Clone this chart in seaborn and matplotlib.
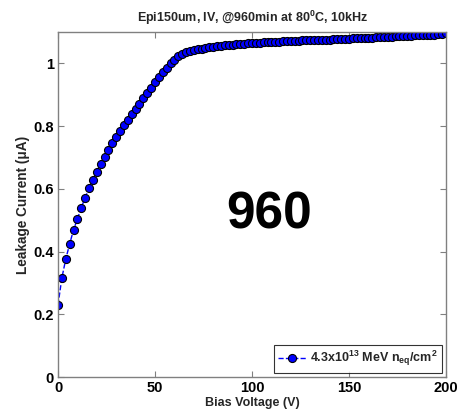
import matplotlib
matplotlib.use("Agg")
import matplotlib.pyplot as plt
import seaborn as sns
import pandas as pd

bias_voltage = list(range(0, 201, 2))
leakage_current = [
    0.230, 0.316, 0.376, 0.424, 0.469, 0.504, 0.540, 0.572, 0.602, 0.628,
    0.655, 0.680, 0.703, 0.725, 0.745, 0.765, 0.785, 0.803, 0.821, 0.838,
    0.855, 0.872, 0.889, 0.905, 0.922, 0.939, 0.955, 0.971, 0.986, 1.000,
    1.012, 1.022, 1.030, 1.036, 1.040, 1.043, 1.045, 1.047, 1.049, 1.051,
    1.053, 1.054, 1.056, 1.057, 1.058, 1.060, 1.061, 1.062, 1.063, 1.064,
    1.065, 1.066, 1.066, 1.067, 1.068, 1.068, 1.069, 1.069, 1.070, 1.071,
    1.071, 1.072, 1.072, 1.073, 1.073, 1.074, 1.074, 1.075, 1.075, 1.076,
    1.076, 1.077, 1.077, 1.078, 1.078, 1.079, 1.080, 1.080, 1.081, 1.081,
    1.082, 1.082, 1.083, 1.084, 1.084, 1.085, 1.085, 1.086, 1.086, 1.087,
    1.088, 1.088, 1.089, 1.089, 1.090, 1.091, 1.091, 1.092, 1.093, 1.094,
    1.096,
]
series_label = r"4.3x10$^{\mathbf{13}}$ MeV n$_{\mathbf{eq}}$/cm$^{\mathbf{2}}$"
title = r"Epi150um, IV, @960min at 80$^{\mathbf{0}}$C, 10kHz"
x_ticks = [0, 50, 100, 150, 200]
y_ticks = [0, 0.2, 0.4, 0.6, 0.8, 1]
y_tick_labels = ["0", "0.2", "0.4", "0.6", "0.8", "1"]

sns.set_style("ticks")
plt.rcParams["font.family"] = ["Liberation Sans", "DejaVu Sans"]
plt.rcParams["font.weight"] = "bold"
plt.rcParams["mathtext.fontset"] = "custom"
plt.rcParams["mathtext.rm"] = "Liberation Sans:bold"
plt.rcParams["mathtext.it"] = "Liberation Sans:bold"
plt.rcParams["mathtext.bf"] = "Liberation Sans:bold"
plt.rcParams["mathtext.default"] = "bf"

df = pd.DataFrame({"V": bias_voltage, "I": leakage_current})

fig = plt.figure(figsize=(4.65, 4.11), dpi=100)
ax = fig.add_axes([58 / 465, 34 / 411, (446 - 58) / 465, (377 - 32) / 411])

sns.lineplot(data=df, x="V", y="I", ax=ax, color="blue", linestyle="--",
             linewidth=1.0, marker="o", markersize=5.8,
             markerfacecolor="blue", markeredgecolor="black",
             markeredgewidth=0.8, label=series_label)

ax.set_xlim(0, 200)
ax.set_ylim(0, 1.1)
ax.set_xticks(x_ticks)
ax.set_yticks(y_ticks)
ax.set_yticklabels(y_tick_labels)
ax.tick_params(direction="in", length=4, width=0.8, colors="#808080",
               labelcolor="black", labelsize=10.5, top=True, right=True, pad=3)
for lab in ax.get_xticklabels() + ax.get_yticklabels():
    lab.set_fontweight("bold")
for s in ax.spines.values():
    s.set_color("#808080")
    s.set_linewidth(1.0)

ax.set_xlabel("Bias Voltage (V)", fontsize=9, fontweight="bold", labelpad=1)
ax.set_ylabel("Leakage Current (\u03bcA)", fontsize=9.8, fontweight="bold", labelpad=2)
ax.set_title(title, fontsize=9, fontweight="bold", pad=7)

ax.text(109, 0.517, "960", fontsize=37, fontweight="bold",
        ha="center", va="center", color="black")

leg = ax.legend(loc="lower right", fontsize=9, frameon=True, fancybox=False,
                handlelength=2.2, handletextpad=0.3, borderpad=0.35,
                borderaxespad=0.35)
leg.get_frame().set_edgecolor("black")
leg.get_frame().set_linewidth(0.8)
for t in leg.get_texts():
    t.set_fontweight("bold")

fig.savefig("out.png", dpi=100)
